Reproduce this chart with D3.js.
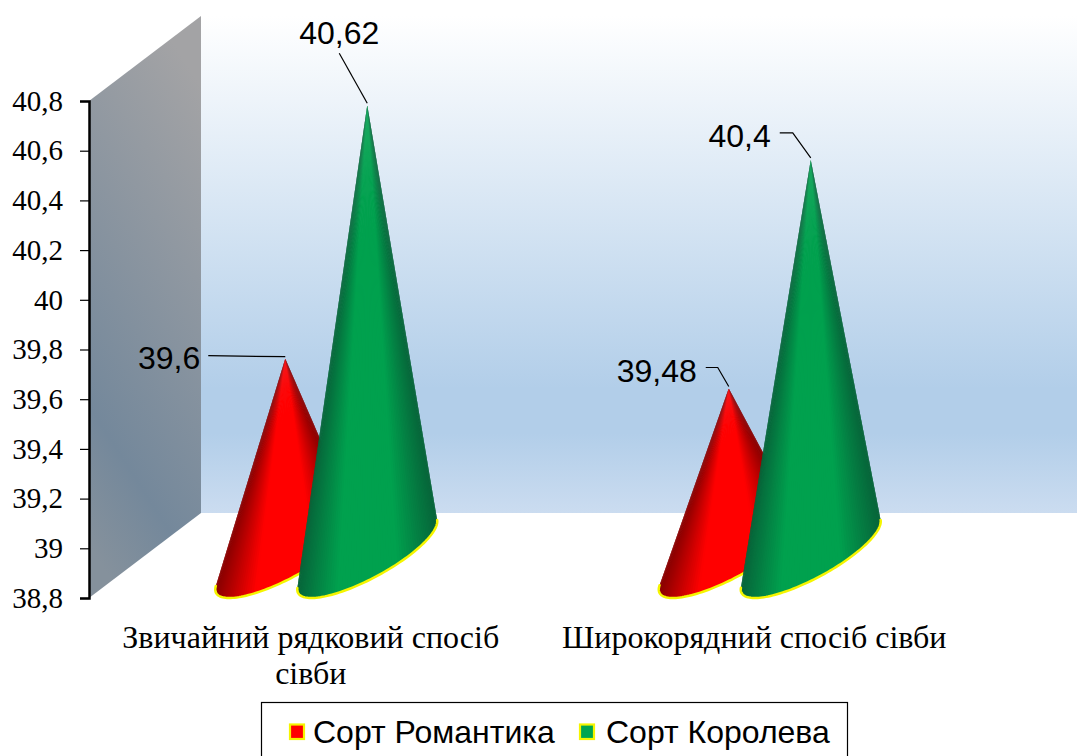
<!DOCTYPE html>
<html>
<head>
<meta charset="utf-8">
<script src="https://cdn.jsdelivr.net/npm/d3@7"></script>
<style>
html, body { margin: 0; padding: 0; background: #fff; overflow: hidden; }
svg { display: block; }
</style>
</head>
<body>
<svg id="chart" width="1077" height="756"></svg>
<script>
'use strict';
// values
const categories = ['Звичайний рядковий спосіб сівби', 'Широкорядний спосіб сівби'];
const seriesNames = ['Сорт Романтика', 'Сорт Королева'];
const romantika = [39.6, 39.48];
const koroleva = [40.62, 40.4];
const yTicks = [38.8, 39, 39.2, 39.4, 39.6, 39.8, 40, 40.2, 40.4, 40.6, 40.8];
const valueLabels = ['39,6', '39,48', '40,62', '40,4'];

const W = 1077, H = 756;
const seriesColors = [
	{ edge: '#8a0000', mid: '#ff0000', swatch: '#ff0000' },
	{ edge: '#07653a', mid: '#00a14e', swatch: '#00a550' }
];

const svg = d3.select('#chart');
const defs = svg.append('defs');

// scales, front edge of the 3d box
const y = d3.scaleLinear().domain([38.8, 40.8]).range([598, 101]);
const x0 = d3.scaleBand().domain(categories).range([89, 976]);
const x1 = d3.scalePoint().domain(seriesNames).range([-41, 41]);

// depth of the box and the cones' place in it
const depth = { x: 112, y: -85 };
const coneShift = 15.5;
const radiusX = 42;

/* background walls */
const wall = defs.append('linearGradient').attr('id', 'wall')
	.attr('x1', 0).attr('y1', 0).attr('x2', 0).attr('y2', 1);
wall.append('stop').attr('offset', '0%').attr('stop-color', '#ffffff');
wall.append('stop').attr('offset', '75%').attr('stop-color', '#b2cee9');
wall.append('stop').attr('offset', '84%').attr('stop-color', '#b2cee9');
wall.append('stop').attr('offset', '100%').attr('stop-color', '#cbdcf0');

const side = defs.append('linearGradient').attr('id', 'side')
	.attr('x1', 0.6).attr('y1', 0).attr('x2', 0.3).attr('y2', 1);
side.append('stop').attr('offset', '0%').attr('stop-color', '#a3a3a5');
side.append('stop').attr('offset', '78%').attr('stop-color', '#74889b');
side.append('stop').attr('offset', '100%').attr('stop-color', '#85919c');

svg.append('rect')
	.attr('x', 89 + depth.x).attr('y', y(40.8) + depth.y)
	.attr('width', W - 89 - depth.x).attr('height', y(38.8) - y(40.8))
	.attr('fill', 'url(#wall)');

svg.append('path')
	.attr('d', d3.line()([
		[89, y(40.8)], [89 + depth.x, y(40.8) + depth.y],
		[89 + depth.x, y(38.8) + depth.y], [89, y(38.8)]
	]) + 'Z')
	.attr('fill', 'url(#side)');

/* cones: apex plus the part of the sheared base circle you can see */
function conePath(cx, cy, h) {
	const vx = depth.x / 2, vy = depth.y / 2;
	const at = t => [cx + radiusX * Math.cos(t) + vx * Math.sin(t), cy + vy * Math.sin(t)];
	// apex in the (u,v) basis of the base
	const b = h / -vy, a = -vx * b / radiusX;
	const r = Math.hypot(a, b), phi = Math.atan2(b, a), d = Math.acos(1 / r);
	const start = phi + d, end = phi - d + 2 * Math.PI;
	const arc = d3.range(0, 81).map(i => at(start + (end - start) * i / 80));
	return { arc, apex: [cx, cy - h] };
}

const floorY = y(38.8) + depth.y / 2;
const series = [romantika, koroleva];
const tips = [];
const tipDrop = 2; // the apex sits a little under the value

series.forEach((values, s) => {
	// shading runs round the cone, so slices fan out from the apex
	const shade = d3.scaleLinear()
		.domain([0, 0.3, 0.72, 1])
		.range([seriesColors[s].edge, seriesColors[s].mid, seriesColors[s].mid, seriesColors[s].edge]);
	values.forEach((v, c) => {
		const cat = categories[c];
		const cx = x0(cat) + x0.bandwidth() / 2 + coneShift + x1(seriesNames[s]);
		const h = floorY - (y(v) + depth.y / 2) - tipDrop;
		const cone = conePath(cx, floorY, h);
		const spread = Math.hypot(radiusX, depth.x / 2);
		const last = cone.arc.length - 1;

		// each slice overlaps the next one so no seams show between them
		cone.arc.slice(0, last).forEach((p, i) => {
			const next = cone.arc[Math.min(i + 2, last)];
			const f = (cone.arc[i + 1][0] - (cx - spread)) / (2 * spread);
			svg.append('path')
				.attr('d', d3.line()([cone.apex, p, cone.arc[i + 1], next]) + 'Z')
				.attr('fill', shade(Math.max(0, Math.min(1, f))));
		});
		svg.append('path')
			.attr('d', d3.line()(cone.arc))
			.attr('fill', 'none')
			.attr('stroke', '#f5f500')
			.attr('stroke-width', 2.5)
			.attr('stroke-linecap', 'round');
		tips.push({ s, c, x: cx, y: cone.apex[1] });
	});
});

/* y axis */
const axis = d3.axisLeft(y)
	.tickValues(yTicks)
	.tickSize(9)
	.tickPadding(17)
	.tickFormat(d => String(d).replace('.', ','));

const axisG = svg.append('g').attr('transform', 'translate(89,0)').call(axis);
axisG.select('.domain').attr('stroke', '#000').attr('stroke-width', 2.5);
axisG.selectAll('.tick line').attr('stroke', '#000').attr('stroke-width', 1.2);
axisG.selectAll('.tick text')
	.attr('font-family', '"Liberation Serif", serif')
	.attr('font-size', 29)
	.attr('fill', '#000');

/* category labels, the first wraps */
const catLines = [['Звичайний рядковий спосіб', 'сівби'], ['Широкорядний спосіб сівби']];
categories.forEach((c, i) => {
	catLines[i].forEach((line, j) => {
		svg.append('text')
			.attr('x', x0(c) + x0.bandwidth() / 2)
			.attr('y', 648 + j * 36)
			.attr('text-anchor', 'middle')
			.attr('font-family', '"Liberation Serif", serif')
			.attr('font-size', 32)
			.attr('fill', '#000')
			.text(line);
	});
});

/* value labels with leader lines: offsets from the cone tip */
const labelLayout = [
	{ s: 0, c: 0, text: valueLabels[0], lx: -85, ly: 10, anchor: 'end', leader: [[-77, -3]] },
	{ s: 0, c: 1, text: valueLabels[1], lx: -32, ly: -7, anchor: 'end', leader: [[-23, -21], [-11, -21]] },
	{ s: 1, c: 0, text: valueLabels[2], lx: -28, ly: -61, anchor: 'middle', leader: [[-28, -52]] },
	{ s: 1, c: 1, text: valueLabels[3], lx: -40, ly: -13, anchor: 'end', leader: [[-31, -27], [-18, -27]] }
];

labelLayout.forEach(l => {
	const tip = tips.find(t => t.s === l.s && t.c === l.c);
	svg.append('path')
		.attr('d', d3.line()([...l.leader.map(p => [tip.x + p[0], tip.y + p[1]]), [tip.x, tip.y - 2]]))
		.attr('fill', 'none')
		.attr('stroke', '#000')
		.attr('stroke-width', 1.2);
	svg.append('text')
		.attr('x', tip.x + l.lx)
		.attr('y', tip.y + l.ly)
		.attr('text-anchor', l.anchor)
		.attr('font-family', '"Liberation Sans", Arial, sans-serif')
		.attr('font-size', 32)
		.attr('fill', '#000')
		.text(l.text);
});

/* legend */
svg.append('rect')
	.attr('x', 261.5).attr('y', 702.5).attr('width', 586).attr('height', 70)
	.attr('fill', '#fff').attr('stroke', '#000').attr('stroke-width', 1.2);

const legendX = [289, 579];
const legendTextX = [313, 606];
seriesNames.forEach((name, i) => {
	svg.append('rect')
		.attr('x', legendX[i] + 1).attr('y', 724.5).attr('width', 14).attr('height', 14.5)
		.attr('fill', seriesColors[i].swatch)
		.attr('stroke', '#f5f500').attr('stroke-width', 2.2);
	svg.append('text')
		.attr('x', legendTextX[i])
		.attr('y', 743)
		.attr('font-family', '"Liberation Sans", Arial, sans-serif')
		.attr('font-size', 32)
		.attr('fill', '#000')
		.text(name);
});
</script>
</body>
</html>
